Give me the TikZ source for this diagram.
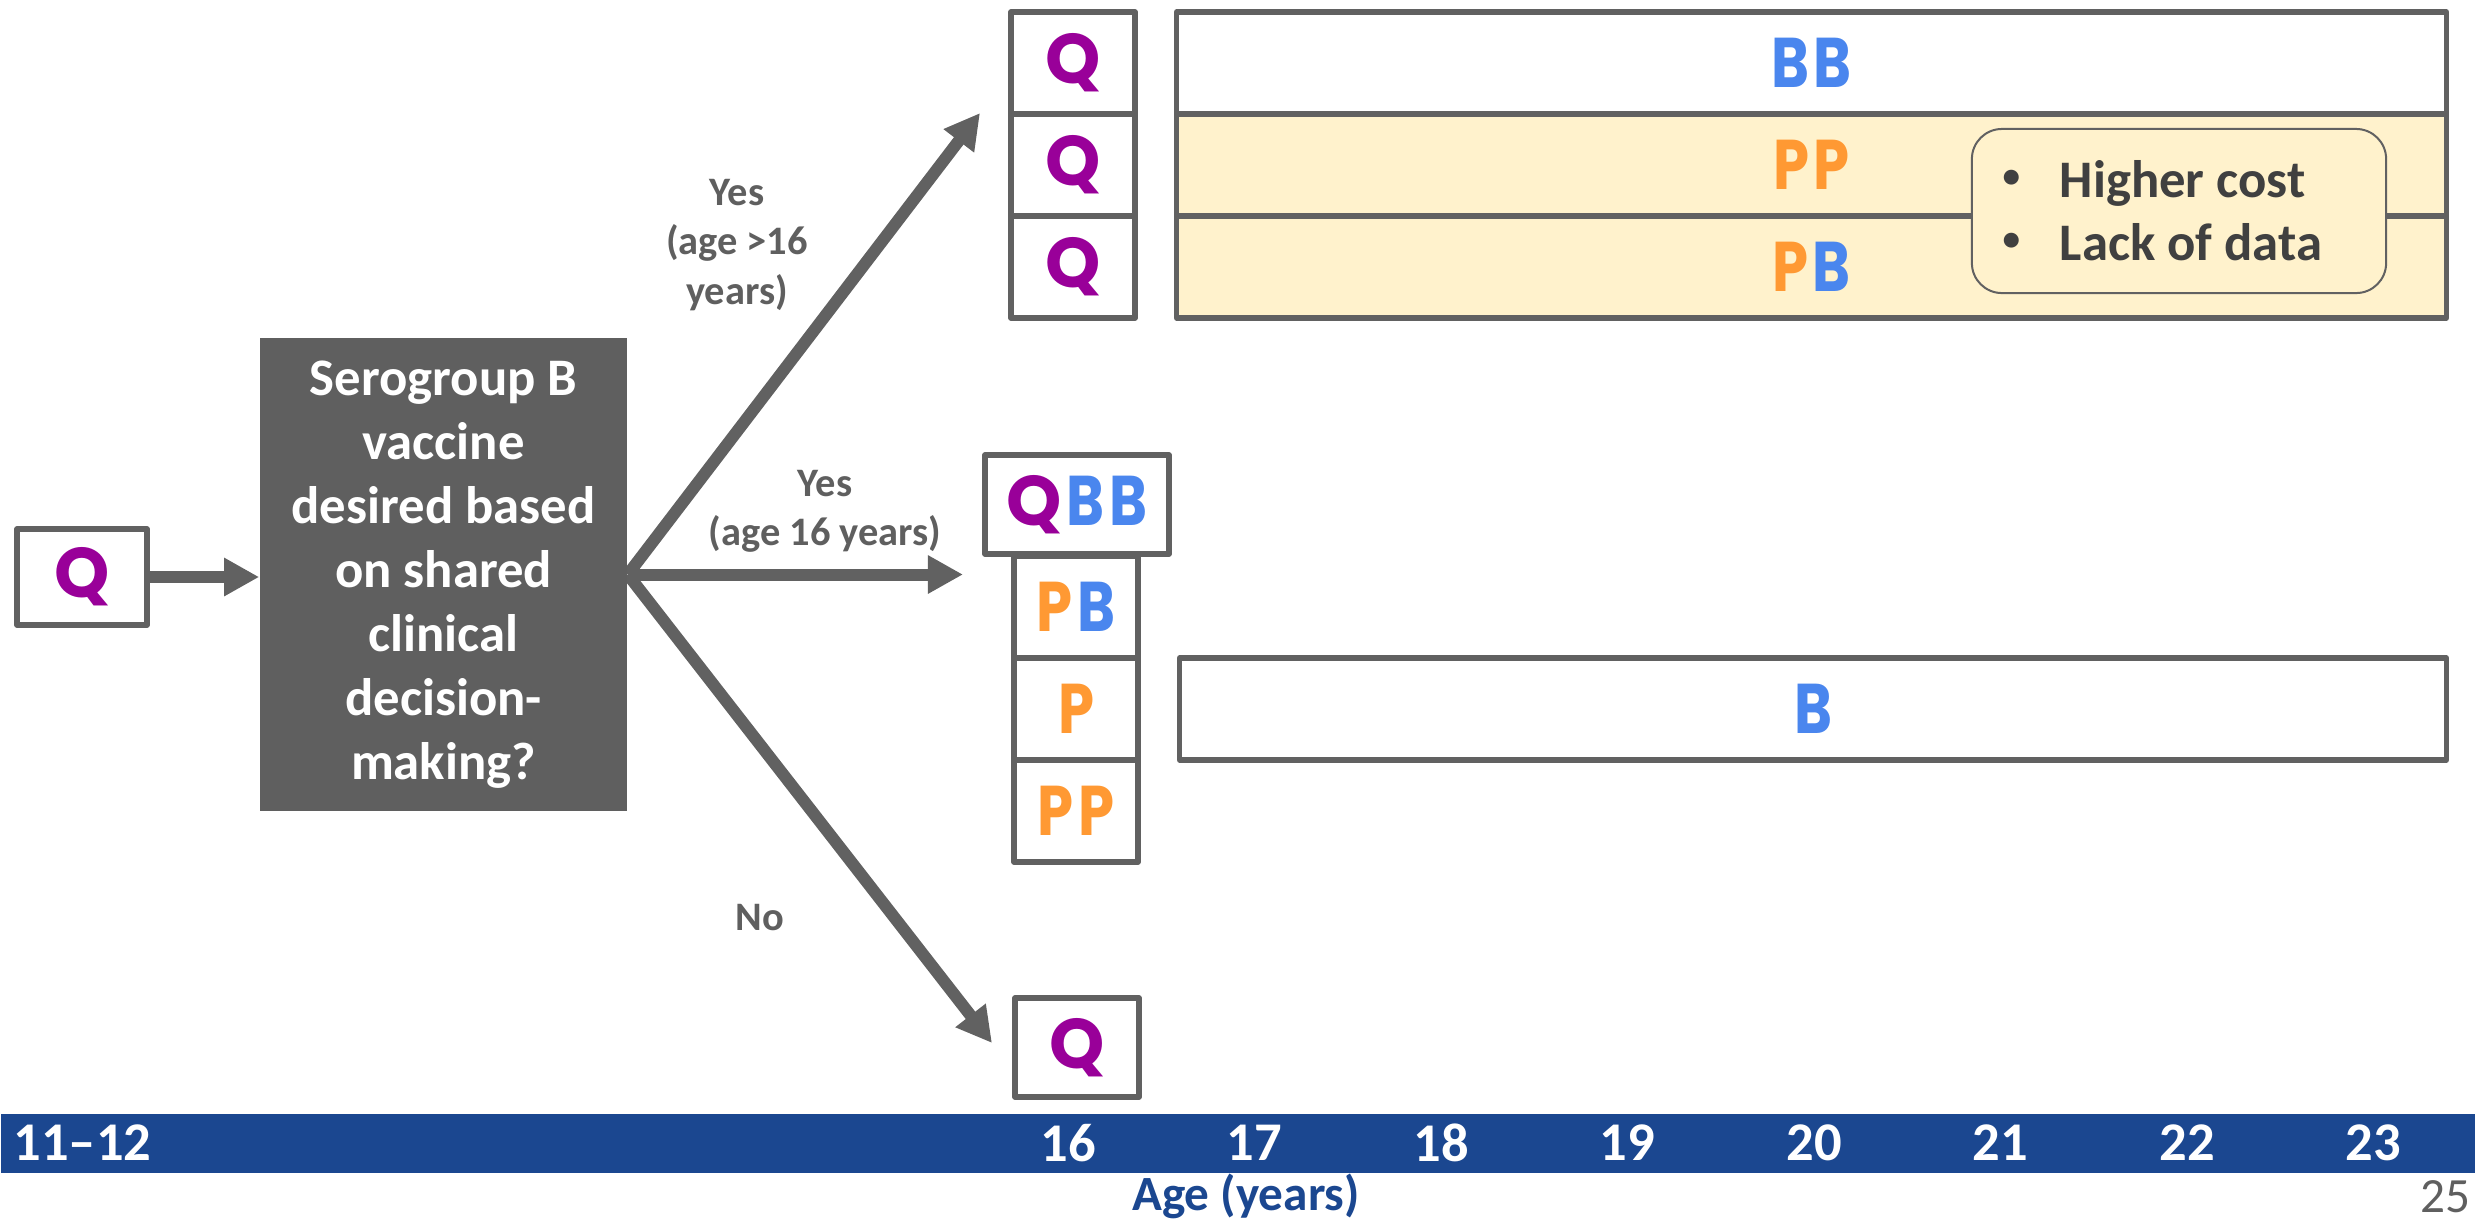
\documentclass[tikz,border=0pt]{standalone}
\usepackage{fontspec}
\setmainfont{Carlito}
\newfontfamily\qfont{Poppins}
\newfontfamily\pbfont{Poppins}[FakeStretch=0.82]
\usetikzlibrary{arrows.meta,backgrounds}

\definecolor{linegray}{HTML}{616161}
\definecolor{boxgray}{HTML}{5F5F5F}
\definecolor{labelgray}{HTML}{5F5F5F}
\definecolor{notegray}{HTML}{404040}
\definecolor{qpurple}{HTML}{990099}
\definecolor{porange}{HTML}{FF9933}
\definecolor{bblue}{HTML}{4A86EE}
\definecolor{paleyellow}{HTML}{FFF2CC}
\definecolor{axisblue}{HTML}{1B4790}

% vaccine letters
\newcommand\vacQ{{\qfont\bfseries\color{qpurple}Q}}
\newcommand\vacP{{\pbfont\bfseries\color{porange}P}}
\newcommand\vacB{{\pbfont\bfseries\color{bblue}B}}
\newcommand\vacgap{\kern0.045cm}
% small list bullet
\newcommand\notebullet{\makebox[0.59cm][l]{\hspace{0.02cm}\raisebox{0.1cm}{\fontsize{10pt}{10pt}\selectfont •}}}

\begin{document}
\begin{tikzpicture}[x=0.01cm,y=-0.01cm,
  cell/.style={draw=linegray, line width=0.055cm, fill=white, inner sep=0pt,
    line join=round, font=\fontsize{20pt}{24pt}\selectfont},
  smallcell/.style={cell, minimum width=1.24cm, minimum height=1.02cm},
  barcell/.style={cell, minimum height=1.02cm},
  flow/.style={draw=linegray, line width=0.12cm,
    -{Triangle[length=0.35cm,width=0.36cm]}},
  branchlabel/.style={text=labelgray, align=center,
    font=\bfseries\fontsize{11.5pt}{14pt}\selectfont},
  notetext/.style={anchor=base west, inner sep=0pt, text=notegray,
    font=\bfseries\fontsize{15pt}{18pt}\selectfont},
  axislabel/.style={text=white, inner sep=0pt,
    font=\bfseries\fontsize{15.5pt}{18pt}\selectfont}]

\useasboundingbox (0,0) rectangle (2475,1220);

% starting dose and decision
\node[cell, minimum width=1.30cm, minimum height=0.96cm] (qstart) at (82,577) {\vacQ};
\node[fill=boxgray, minimum width=3.67cm, minimum height=4.73cm, inner sep=0pt,
  text=white, align=center, font=\bfseries\fontsize{15pt}{18.2pt}\selectfont]
  (decision) at (443.5,574.5)
  {Serogroup B\\vaccine\\desired based\\on shared\\clinical\\decision-\\making?};

% older than 16: schedule rows
\node[smallcell] (q1) at (1073,63) {\vacQ};
\node[smallcell] (q2) at (1073,165) {\vacQ};
\node[smallcell] (q3) at (1073,267) {\vacQ};
\node[barcell, minimum width=12.69cm] (rowBB) at (1811.5,63) {\vacB\vacgap\vacB};
\node[barcell, minimum width=12.69cm, fill=paleyellow] (rowPP) at (1811.5,165) {\vacP\vacgap\vacP};
\node[barcell, minimum width=12.69cm, fill=paleyellow] (rowPB) at (1811.5,267) {\vacP\vacgap\vacB};
\node[draw=linegray, line width=0.02cm, fill=paleyellow, rounded corners=0.3cm,
  minimum width=4.14cm, minimum height=1.64cm] (note) at (2179,211) {};
\node[notetext] (note1) at (2000,197) {\notebullet Higher cost};
\node[notetext] (note2) at (2000,260) {\notebullet Lack of data};

% age 16: schedule rows
\node[smallcell] (pbm) at (1076,607) {\vacP\vacgap\vacB};
\node[smallcell] (pm) at (1076,709) {\vacP};
\node[smallcell] (ppm) at (1076,811) {\vacP\vacgap\vacP};
\node[cell, minimum width=1.84cm, minimum height=0.99cm] (qbb) at (1077,504.5) {\vacQ\vacgap\vacB\vacgap\vacB};
\node[barcell, minimum width=12.66cm] (rowB) at (1813,709) {\vacB};

% no serogroup B
\node[cell, minimum width=1.24cm, minimum height=0.99cm] (qend) at (1077,1047.5) {\vacQ};

% connectors
\coordinate (fork) at (decision.east);
\coordinate (upTip) at (980,113);
\coordinate (midTip) at (963,574.5);
\coordinate (lowTip) at (992,1043);
\begin{scope}[on background layer]
  \draw[flow] (qstart.east) -- (qstart.east -| decision.west);
  \draw[flow] (fork) -- (upTip);
  \draw[flow] (fork) -- (midTip);
  \draw[flow] (fork) -- (lowTip);
\end{scope}

\node[branchlabel] (lblOlder) at (737,245) {Yes\\(age >16\\years)};
\node[branchlabel] (lbl16) at (825,511) {Yes\\(age 16 years)};
\node[branchlabel] (lblNo) at (760,918) {No};

% age axis
\node[fill=axisblue, minimum width=24.75cm, minimum height=0.59cm, inner sep=0pt,
  anchor=north west] (axis) at (0,1113) {};
\node[axislabel, anchor=west] (age1112) at (13,1143) {11–12};
\foreach \a/\x in {16/1068,17/1254,18/1441,19/1627,20/1814,21/2000,22/2187,23/2373}
  \node[axislabel] (age\a) at (\x,1143) {\a};
\node[text=axisblue, font=\bfseries\fontsize{14pt}{17pt}\selectfont] (axistitle) at (1246,1196) {Age (years)};
\node[text=labelgray, anchor=east, inner sep=0pt, font=\fontsize{14pt}{17pt}\selectfont] (pagenum) at (2471,1197) {25};
\end{tikzpicture}
\end{document}
